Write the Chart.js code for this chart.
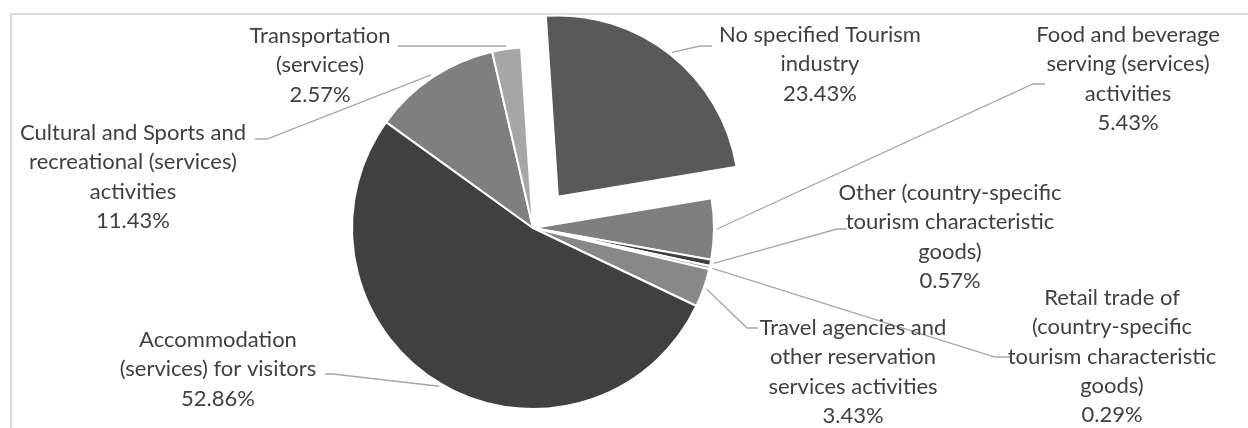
<!DOCTYPE html>
<html>
<head>
<meta charset="utf-8">
<title>Tourism industry shares</title>
<script src="https://cdn.jsdelivr.net/npm/chart.js@4/dist/chart.umd.min.js"></script>
<style>
  html, body { margin: 0; padding: 0; background: #ffffff; }
  #wrap { position: relative; width: 1248px; height: 428px; }
</style>
</head>
<body>
<div id="wrap"><canvas id="pie" width="1248" height="428"></canvas></div>
<script>
// Tourism industry categories, clockwise from the top
const categories = [
  'No specified Tourism industry',
  'Food and beverage serving (services) activities',
  'Other (country-specific tourism characteristic goods)',
  'Retail trade of (country-specific tourism characteristic goods)',
  'Travel agencies and other reservation services activities',
  'Accommodation (services) for visitors',
  'Cultural and Sports and recreational (services) activities',
  'Transportation (services)'
];

// Share of each category, in percent
const shares = [23.43, 5.43, 0.57, 0.29, 3.43, 52.86, 11.43, 2.57];

// Wrapped label text for each category (the percentage line is appended)
const labelText = [
  ['No specified Tourism', 'industry'],
  ['Food and beverage', 'serving (services)', 'activities'],
  ['Other (country-specific', 'tourism characteristic', 'goods)'],
  ['Retail trade of', '(country-specific', 'tourism characteristic', 'goods)'],
  ['Travel agencies and', 'other reservation', 'services activities'],
  ['Accommodation', '(services) for visitors'],
  ['Cultural and Sports and', 'recreational (services)', 'activities'],
  ['Transportation', '(services)']
];

const sliceColors = ['#595959', '#7f7f7f', '#3f3f3f', '#a5a5a5', '#888888', '#404040', '#7f7f7f', '#a6a6a6'];
const sliceOffsets = [160, 0, 0, 0, 0, 0, 0, 0];

// Where each label block sits: cx = text centre, ty = first line middle,
// (ex, ey) = leader elbow, hx = end of the horizontal leader stub
const labelBoxes = [
  { cx: 820,  ty: 35,  ex: 700, ey: 46,  hx: 712 },
  { cx: 1128, ty: 35,  ex: 1033, ey: 84, hx: 1045 },
  { cx: 950,  ty: 193, ex: 837, ey: 229, hx: 847 },
  { cx: 1112, ty: 298, ex: 995, ey: 357, hx: 1010 },
  { cx: 853,  ty: 328, ex: 747, ey: 328, hx: 758 },
  { cx: 218,  ty: 340, ex: 333, ey: 374, hx: 325 },
  { cx: 133,  ty: 133, ex: 267, ey: 139, hx: 255 },
  { cx: 320,  ty: 36,  ex: 398, ey: 46,  hx: 398 }
];

const LINE_H = 29.3;
const FONT = '22px Lato, "Noto Sans", sans-serif';

const frame = {
  id: 'frame',
  beforeDraw(chart) {
    const ctx = chart.ctx;
    ctx.save();
    ctx.strokeStyle = '#d9d9d9';
    ctx.lineWidth = 2;
    ctx.strokeRect(11, 14, 1400, 600);
    ctx.restore();
  }
};

const outsideLabels = {
  id: 'outsideLabels',
  afterDatasetsDraw(chart) {
    const ctx = chart.ctx;
    const meta = chart.getDatasetMeta(0);
    ctx.save();
    meta.data.forEach((el, i) => {
      const p = el.getProps(['x', 'y', 'startAngle', 'endAngle', 'outerRadius'], true);
      const mid = (p.startAngle + p.endAngle) / 2;
      const shift = (el.options.offset || 0) / 4;
      const r = p.outerRadius + 3 + shift;
      const sx = p.x + Math.cos(mid) * r;
      const sy = p.y + Math.sin(mid) * r;
      const b = labelBoxes[i];

      ctx.strokeStyle = '#a6a6a6';
      ctx.lineWidth = 1.3;
      ctx.beginPath();
      ctx.moveTo(sx, sy);
      ctx.lineTo(b.ex, b.ey);
      ctx.lineTo(b.hx, b.ey);
      ctx.stroke();

      const lines = labelText[i].concat([shares[i].toFixed(2) + '%']);
      ctx.fillStyle = '#404040';
      ctx.font = FONT;
      ctx.textAlign = 'center';
      ctx.textBaseline = 'middle';
      lines.forEach((t, k) => ctx.fillText(t, b.cx, b.ty + k * LINE_H));
    });
    ctx.restore();
  }
};

new Chart(document.getElementById('pie'), {
  type: 'pie',
  data: {
    labels: categories,
    datasets: [{
      data: shares,
      backgroundColor: sliceColors,
      borderColor: '#ffffff',
      borderWidth: 2,
      offset: sliceOffsets,
      radius: 181,
      rotation: -3.8
    }]
  },
  options: {
    responsive: false,
    animation: false,
    devicePixelRatio: 1,
    rotation: -3.8,
    radius: 181,
    layout: { padding: { left: 0, right: 182, top: 28, bottom: 0 } },
    plugins: {
      legend: { display: false },
      tooltip: { enabled: false }
    }
  },
  plugins: [frame, outsideLabels]
});
</script>
</body>
</html>
